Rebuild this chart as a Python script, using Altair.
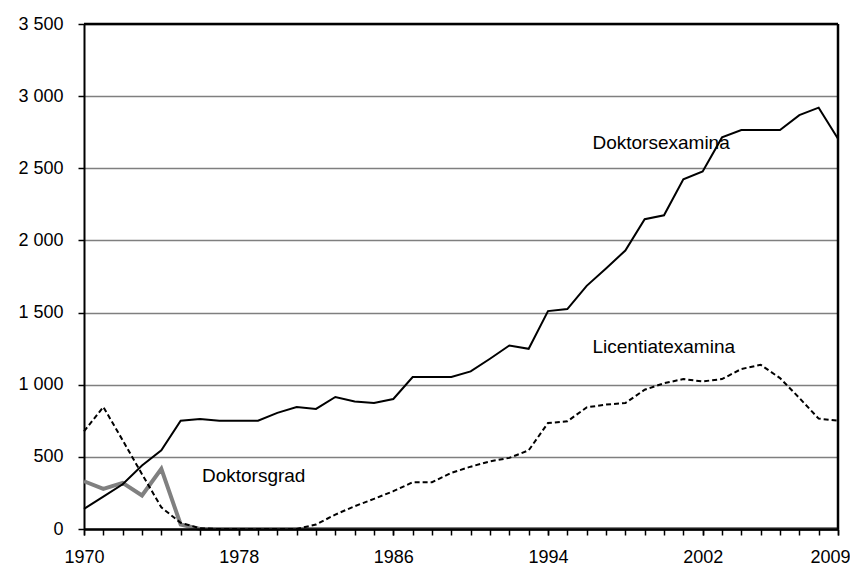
import altair as alt
import pandas as pd

years = list(range(1970, 2010))
doktorsexamina = [140, 225, 310, 440, 545, 750, 762, 750, 750, 750,
                  805, 845, 832, 915, 884, 873, 901, 1053, 1053, 1053,
                  1092, 1180, 1272, 1249, 1510, 1524, 1685, 1806, 1930, 2147,
                  2174, 2423, 2478, 2714, 2765, 2765, 2765, 2868, 2920, 2705]
licentiatexamina = [677, 846, 615, 380, 150, 43, 5, 0, 0, 0,
                    0, 0, 31, 100, 158, 209, 262, 324, 324, 389,
                    432, 469, 493, 545, 735, 746, 843, 862, 873, 965,
                    1010, 1039, 1023, 1039, 1109, 1138, 1046, 908, 765, 751]
doktorsgrad_years = list(range(1970, 2010))
doktorsgrad = [331, 278, 320, 232, 417, 31, 0, 0] + [0] * 32

label_texts = ["Doktorsexamina", "Licentiatexamina", "Doktorsgrad"]
label_years = [1996.3, 1996.3, 1976.1]
label_values = [2634, 1222, 329]

x_label_years = [1970, 1978, 1986, 1994, 2002, 2009]
y_ticks = list(range(0, 3501, 500))
x_min, x_max = 1970, 2009
y_min, y_max = 0, 3500

FONT = "Liberation Sans, Arial, sans-serif"

df_dr = pd.DataFrame({"year": years, "value": doktorsexamina})
df_lic = pd.DataFrame({"year": years, "value": licentiatexamina})
df_grad = pd.DataFrame({"year": doktorsgrad_years, "value": doktorsgrad})
df_lab = pd.DataFrame({"year": label_years, "value": label_values, "text": label_texts})
df_frame_right = pd.DataFrame({"year": [x_max], "value": [y_min], "value2": [y_max]})
df_frame_top = pd.DataFrame({"year": [x_min], "year2": [x_max], "value": [y_max]})

x_scale = alt.Scale(domain=[x_min, x_max], nice=False, zero=False)

# axis with a tick at every year (no labels)
x_ticks_enc = alt.X("year:Q", scale=x_scale,
                    axis=alt.Axis(values=years, title=None, grid=False, labels=False,
                                  orient="bottom", tickSize=6, tickColor="black",
                                  tickWidth=1.5, domainColor="black", domainWidth=2, zindex=1))
# axis with labels at selected years
x_labels_enc = alt.X("year:Q", scale=x_scale,
                     axis=alt.Axis(values=x_label_years, title=None, grid=False,
                                   orient="bottom", format="d",
                                   labelPadding=13, tickSize=6, tickColor="black", tickWidth=1.5,
                                   domainColor="black", domainWidth=2, labelFont=FONT,
                                   labelFontSize=18, labelColor="black", labelOverlap=False,
                                   labelFlush=False, labelBound=False,
                                   labelOffset={"condition": {"test": f"datum.value == {x_max}", "value": -8}, "value": 0},
                                   zindex=1))
x_none = alt.X("year:Q", scale=x_scale, axis=None)
y_enc = alt.Y("value:Q",
              scale=alt.Scale(domain=[y_min, y_max], nice=False),
              axis=alt.Axis(values=y_ticks, title=None, grid=True, gridColor="#7f7f7f",
                            gridWidth=1.5, tickSize=6, tickColor="black", tickWidth=1.5,
                            domainColor="black", domainWidth=2, labelPadding=15,
                            labelExpr="replace(format(datum.value, ','), ',', ' ')",
                            labelFont=FONT, labelFontSize=18, labelColor="black"))

grad = alt.Chart(df_grad).mark_line(color="#808080", strokeWidth=4).encode(x=x_ticks_enc, y=y_enc)
lic = alt.Chart(df_lic).mark_line(color="black", strokeWidth=2, strokeDash=[5, 3]).encode(
    x=x_labels_enc, y="value:Q")
dr = alt.Chart(df_dr).mark_line(color="black", strokeWidth=2).encode(x=x_none, y="value:Q")
labels = alt.Chart(df_lab).mark_text(align="left", baseline="alphabetic", font=FONT,
                                     fontSize=19, color="black").encode(
    x=x_none, y="value:Q", text="text:N")
frame_r = alt.Chart(df_frame_right).mark_rule(color="black", strokeWidth=2.5).encode(
    x=x_none, y="value:Q", y2="value2:Q")
frame_t = alt.Chart(df_frame_top).mark_rule(color="black", strokeWidth=2.5).encode(
    x=x_none, x2="year2:Q", y="value:Q")

chart = alt.layer(grad, lic, dr, labels, frame_r, frame_t).resolve_axis(
    x="independent"
).properties(
    width=754, height=505,
    autosize=alt.AutoSizeParams(type="none"),
    padding={"left": 76, "top": 16, "right": 12, "bottom": 37},
    background="white",
).configure_view(stroke=None)

chart.save("out.html", embed_options={"renderer": "svg", "actions": False})
